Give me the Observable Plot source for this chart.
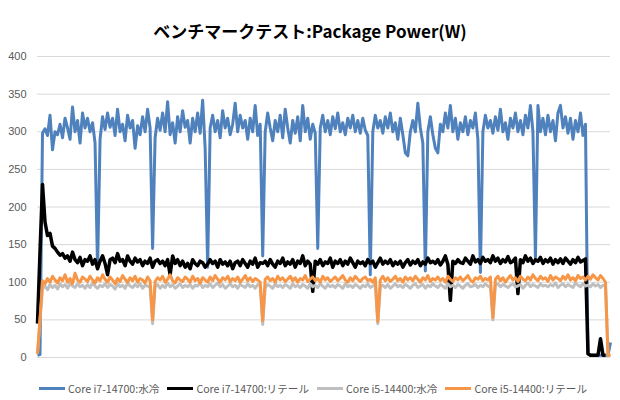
<!DOCTYPE html>
<html>
<head>
<meta charset="utf-8">
<script src="https://cdn.jsdelivr.net/npm/d3@7"></script>
<script src="https://cdn.jsdelivr.net/npm/@observablehq/plot@0.6"></script>
<style>
  html, body { margin: 0; padding: 0; background: #fff; }
  #wrap { width: 620px; height: 400px; position: relative; overflow: hidden; }
  #title { box-sizing: border-box; height: 45px; padding-top: 20px; line-height: 22px; text-align: center;
           font-family: "Noto Sans CJK JP", sans-serif; font-weight: bold; font-size: 17px; color: #000; }
  #legend { box-sizing: border-box; height: 25px; padding-top: 2px; padding-left: 6px; line-height: 24px; display: flex; justify-content: center;
            font-family: "Noto Sans CJK JP", sans-serif; font-size: 10.6px; color: #595959; }
  .item { display: flex; align-items: center; margin: 0 4px; }
  .swatch { width: 26px; height: 3px; margin-right: 3px; }
</style>
</head>
<body>
<div id="wrap">
  <div id="title">ベンチマークテスト:Package Power(W)</div>
  <div id="chart"></div>
  <div id="legend"></div>
</div>
<script>
const seriesNames = ["Core i7-14700:水冷", "Core i7-14700:リテール", "Core i5-14400:水冷", "Core i5-14400:リテール"];
const seriesColors = ["#4f81bd", "#000000", "#bfbfbf", "#f79646"];
const yTicks = [0, 50, 100, 150, 200, 250, 300, 350, 400];

const i7Water = [
  3, 4, 298, 304, 295, 322, 276, 300, 296, 310,
  292, 318, 305, 290, 333, 300, 315, 285, 325, 305,
  318, 300, 312, 285, 118, 290, 320, 303, 325, 306,
  318, 295, 330, 300, 310, 288, 322, 305, 315, 278,
  308, 296, 320, 300, 330, 305, 145, 292, 318, 302,
  325, 300, 340, 296, 312, 285, 320, 300, 328, 306,
  315, 285, 318, 300, 325, 298, 342, 278, 120, 305,
  322, 300, 315, 292, 328, 305, 318, 296, 310, 338,
  300, 322, 305, 315, 290, 318, 300, 335, 295, 310,
  135, 300, 325, 305, 288, 315, 300, 322, 292, 330,
  305, 285, 315, 298, 320, 288, 335, 300, 318, 290,
  310, 298, 145, 305, 322, 300, 315, 296, 320, 304,
  325, 300, 312, 296, 318, 305, 322, 300, 315, 298,
  318, 302, 295, 110, 300, 322, 305, 315, 298, 320,
  305, 325, 300, 312, 290, 318, 296, 272, 268, 300,
  315, 300, 338, 305, 285, 115, 300, 320, 296, 278,
  272, 310, 300, 325, 305, 335, 300, 318, 290, 312,
  300, 320, 296, 315, 305, 325, 290, 113, 300, 322,
  305, 315, 298, 320, 302, 330, 300, 312, 290, 318,
  305, 325, 300, 315, 296, 322, 305, 335, 300, 133,
  335, 300, 318, 296, 322, 300, 315, 288, 325, 335,
  305, 320, 298, 318, 290, 315, 300, 325, 295, 310,
  5, 3, 3, 3, 3, 3, 3, 3, 3, 20
];
const i7Retail = [
  45, 140, 230, 180, 162, 165, 148, 145, 140, 136,
  138, 132, 135, 128, 140, 130, 126, 133, 122, 130,
  128, 135, 124, 130, 118, 128, 135, 125, 110, 130,
  132, 126, 138, 128, 130, 122, 135, 128, 124, 132,
  127, 130, 122, 128, 125, 132, 120, 128, 130, 125,
  128, 122, 130, 110, 135, 125, 130, 122, 128, 120,
  125, 118, 130, 125, 122, 128, 126, 120, 124, 130,
  125, 128, 120, 130, 124, 127, 122, 128, 118, 126,
  128, 122, 130, 125, 120, 128, 124, 132, 120, 126,
  125, 128, 122, 130, 124, 120, 128, 125, 132, 122,
  127, 124, 130, 120, 128, 125, 135, 122, 128, 124,
  88, 128, 124, 130, 122, 127, 125, 132, 120, 128,
  125, 130, 122, 128, 124, 132, 126, 120, 128, 125,
  127, 122, 130, 125, 128, 120, 126, 132, 124, 128,
  125, 130, 122, 127, 124, 128, 120, 126, 130, 123,
  128, 125, 130, 122, 127, 124, 132, 126, 128, 125,
  130, 123, 128, 135, 124, 76, 128, 125, 130, 126,
  125, 132, 128, 124, 135, 127, 130, 125, 133, 128,
  130, 126, 135, 128, 132, 125, 130, 127, 134, 126,
  128, 132, 85, 130, 126, 135, 128, 132, 125, 130,
  128, 133, 125, 130, 127, 132, 124, 130, 126, 131,
  125, 132, 128, 124, 130, 126, 133, 127, 129, 131,
  5, 3, 3, 3, 3, 25, 3, 3, null, null
];
const i5Water = [
  5, 50, 92, 95, 90, 97, 93, 96, 91, 98,
  94, 97, 92, 99, 95, 93, 98, 94, 96, 92,
  97, 93, 99, 95, 92, 96, 94, 98, 93, 97,
  95, 91, 98, 94, 96, 92, 99, 95, 93, 97,
  94, 98, 92, 96, 95, 93, 45, 94, 97, 92,
  96, 93, 99, 94, 97, 92, 95, 98, 93, 96,
  94, 97, 92, 96, 95, 99, 93, 96, 94, 98,
  93, 96, 99, 94, 97, 92, 95, 98, 94, 96,
  92, 97, 95, 93, 98, 94, 96, 92, 97, 95,
  44, 93, 97, 95, 92, 98, 94, 96, 93, 97,
  95, 92, 98, 94, 96, 93, 97, 95, 92, 98,
  94, 96, 93, 98, 95, 92, 97, 94, 96, 93,
  97, 95, 92, 98, 94, 96, 93, 97, 95, 92,
  96, 94, 98, 93, 95, 97, 45, 94, 96, 93,
  97, 92, 95, 98, 94, 96, 93, 97, 95, 92,
  96, 98, 93, 95, 97, 92, 96, 94, 98, 95,
  93, 97, 95, 92, 98, 94, 96, 93, 97, 95,
  92, 96, 98, 94, 95, 97, 93, 96, 94, 98,
  95, 93, 50, 96, 98, 94, 97, 95, 93, 96,
  98, 94, 95, 97, 92, 96, 99, 94, 97, 95,
  93, 98, 95, 96, 94, 97, 95, 99, 93, 96,
  98, 94, 97, 95, 93, 99, 96, 94, 98, 95,
  96, 94, 98, 95, 97, 93, 96, 95, 3, 3
];
const i5Retail = [
  5, 50, 102, 98, 105, 100, 108, 103, 99, 106,
  102, 110, 100, 105, 98, 112, 103, 100, 107, 104,
  101, 108, 103, 99, 106, 102, 110, 104, 100, 107,
  103, 98, 105, 101, 109, 104, 100, 106, 102, 108,
  100, 105, 103, 99, 107, 102, 50, 101, 106, 103,
  108, 100, 104, 110, 102, 99, 106, 103, 101, 107,
  104, 100, 108, 102, 105, 99, 106, 103, 100, 107,
  102, 109, 104, 100, 106, 103, 108, 101, 105, 102,
  107, 100, 104, 109, 102, 106, 101, 105, 103, 100,
  49, 104, 107, 102, 105, 100, 108, 103, 106, 101,
  104, 108, 102, 106, 100, 105, 103, 109, 101, 104,
  107, 102, 105, 100, 108, 103, 106, 101, 104, 107,
  102, 105, 109, 103, 100, 106, 102, 108, 104, 101,
  105, 107, 102, 104, 100, 106, 48, 103, 108, 102,
  106, 101, 104, 108, 102, 105, 100, 107, 103, 106,
  102, 108, 104, 100, 106, 103, 109, 101, 105, 103,
  107, 102, 105, 100, 108, 104, 101, 106, 103, 107,
  102, 105, 109, 103, 100, 106, 104, 108, 102, 105,
  103, 107, 53, 104, 108, 102, 106, 100, 105, 109,
  103, 106, 101, 108, 104, 102, 107, 103, 110, 105,
  102, 108, 104, 106, 101, 109, 103, 107, 105, 102,
  108, 104, 110, 103, 106, 102, 109, 105, 107, 103,
  108, 104, 110, 106, 103, 109, 105, 100, 3, 3
];

const allSeries = [i7Water, i7Retail, i5Water, i5Retail];
const N = i7Water.length;
const widths = [3, 3.5, 3, 3];

const marks = [
  Plot.ruleY(yTicks, {stroke: "#d9d9d9", strokeWidth: 1})
];
allSeries.forEach((vals, k) => {
  const rows = vals.map((v, i) => ({i, v: v == null ? NaN : v}));
  marks.push(Plot.line(rows, {x: "i", y: "v", stroke: seriesColors[k], strokeWidth: widths[k], strokeLinejoin: "round", strokeLinecap: "butt"}));
});

const chart = Plot.plot({
  width: 620,
  height: 330,
  marginTop: 11,
  marginBottom: 18,
  marginLeft: 37,
  marginRight: 10,
  style: {fontFamily: "'Liberation Sans', Arial, sans-serif", fontSize: "11px", color: "#595959", background: "white"},
  x: {domain: [0, N - 1], axis: null},
  y: {domain: [0, 400], ticks: yTicks, tickSize: 0, tickPadding: 11, label: null, tickFormat: d => String(d)},
  marks
});
document.getElementById("chart").appendChild(chart);

const legend = document.getElementById("legend");
seriesNames.forEach((name, k) => {
  const item = document.createElement("div");
  item.className = "item";
  const sw = document.createElement("span");
  sw.className = "swatch";
  sw.style.background = seriesColors[k];
  const tx = document.createElement("span");
  tx.textContent = name;
  item.appendChild(sw);
  item.appendChild(tx);
  legend.appendChild(item);
});
</script>
</body>
</html>
